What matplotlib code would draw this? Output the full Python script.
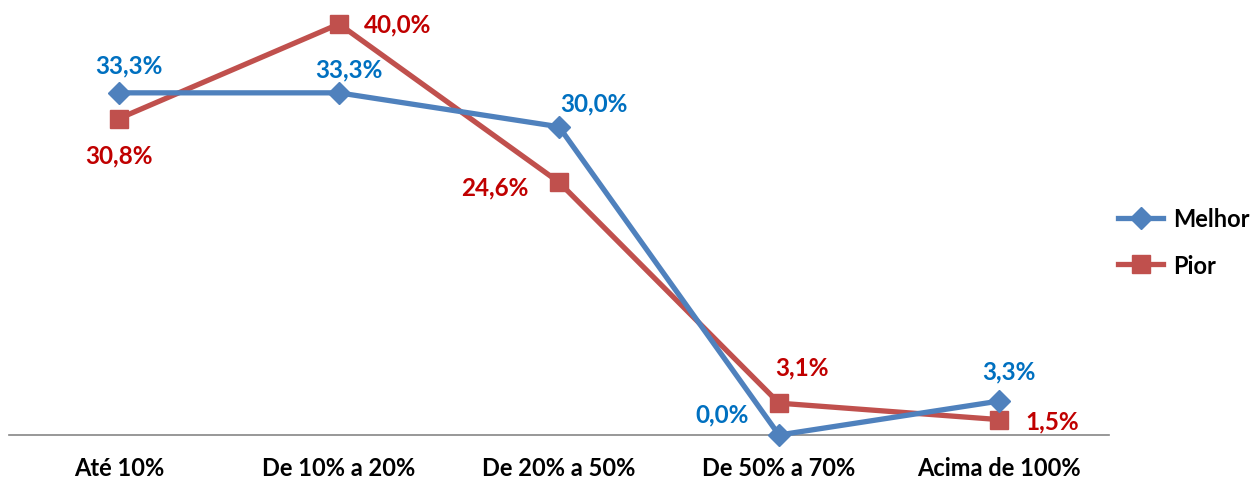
import matplotlib.pyplot as plt

# data
categorias = ['Até 10%', 'De 10% a 20%', 'De 20% a 50%', 'De 50% a 70%', 'Acima de 100%']
melhor = [33.3, 33.3, 30.0, 0.0, 3.3]
pior = [30.8, 40.0, 24.6, 3.1, 1.5]
rot_melhor = ['33,3%', '33,3%', '30,0%', '0,0%', '3,3%']
rot_pior = ['30,8%', '40,0%', '24,6%', '3,1%', '1,5%']

# label offsets in pixels
off_melhor = [(10, 28), (10, 24), (35, 24), (-57, 21), (10, 30)]
off_pior = [(0, -36), (59, 0), (-64, -5), (23, 36), (53, -1)]

plt.rcParams['font.family'] = ['Lato', 'DejaVu Sans']

fig = plt.figure(figsize=(12.56, 4.81), dpi=100)
ax = fig.add_axes([9/1256, 45/481, 1100/1256, 411/481])

x = range(len(categorias))
ax.plot(x, melhor, color='#4F81BD', linewidth=3.8, marker='D', markersize=11,
        clip_on=False, label='Melhor', zorder=3)
ax.plot(x, pior, color='#C0504D', linewidth=3.8, marker='s', markersize=13,
        clip_on=False, label='Pior', zorder=2)

for i in x:
    ax.annotate(rot_melhor[i], (i, melhor[i]), xytext=off_melhor[i], textcoords='offset pixels',
                ha='center', va='center', color='#0070C0', fontsize=17.5, fontweight='bold')
    ax.annotate(rot_pior[i], (i, pior[i]), xytext=off_pior[i], textcoords='offset pixels',
                ha='center', va='center', color='#C00000', fontsize=17.5, fontweight='bold')

ax.set_xlim(-0.5, 4.5)
ax.set_ylim(0, 40)
ax.set_xticks(list(x))
ax.set_xticklabels(categorias, fontsize=17, fontweight='bold')
ax.tick_params(axis='x', length=0, pad=15)
ax.set_yticks([])
for s in ['top', 'right', 'left']:
    ax.spines[s].set_visible(False)
ax.spines['bottom'].set_color('#868686')
ax.spines['bottom'].set_linewidth(1.2)

leg = ax.legend(loc='center left', bbox_to_anchor=(1.0, 0.47), frameon=False,
                prop={'size': 17, 'weight': 'bold'}, handlelength=1.9,
                labelspacing=1.0, handletextpad=0.4, borderaxespad=0.0)

fig.savefig('out.png', dpi=100)
